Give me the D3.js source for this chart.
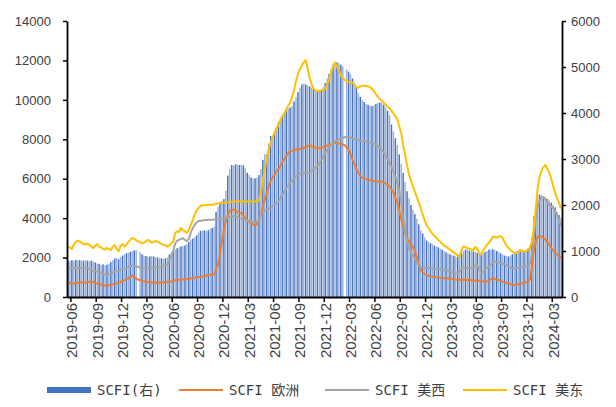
<!DOCTYPE html>
<html>
<head>
<meta charset="utf-8">
<script src="https://cdn.jsdelivr.net/npm/d3@7"></script>
<style>
  body { margin: 0; background: #fff; }
  svg { display: block; }
  .axis text { font-family: "Liberation Sans", Arial, sans-serif; fill: #404040; }
  .legend text { font-family: "DejaVu Sans Mono", "Noto Sans CJK SC", monospace; font-size: 14px; fill: #404040; }
</style>
</head>
<body>
<svg id="chart" width="616" height="407"></svg>
<script>
// weekly SCFI, first week of the series
const startWeek = "2019-05-24";

const tickLabels = ["2019-06", "2019-09", "2019-12", "2020-03", "2020-06", "2020-09", "2020-12",
  "2021-03", "2021-06", "2021-09", "2021-12", "2022-03", "2022-06", "2022-09", "2022-12",
  "2023-03", "2023-06", "2023-09", "2023-12", "2024-03"];

const leftTicks = [0, 2000, 4000, 6000, 8000, 10000, 12000, 14000];
const rightTicks = [0, 1000, 2000, 3000, 4000, 5000, 6000];

const seriesNames = ["SCFI(右)", "SCFI 欧洲", "SCFI 美西", "SCFI 美东"];

// SCFI composite (right axis), null = no publication
const scfi = [
  780, 790, 800, 790, 810, 800, 800, 790, 790, 800, 790, 780, 790, 770,
  750, 730, 720, 700, 710, 690, 700,
  720, 760, 800, 840, 850, 820, 870,
  900, 930, 950, 960, 980, 1000, 1010, 1020,
  null,
  980, 930, 900, 890, 880, 880, 890, 880, 870, 860, 850, 840, 830, 840, 860,
  920, 960, 1000, 1030, 1060, 1080, 1100, 1110, 1120, 1150, 1200, 1250, 1270, 1300,
  1340, 1400, 1440, 1440, 1450, 1440, 1450, 1480, 1500, 1530,
  1850, 1960, 2050, 2090, 2130, 2310, 2640, 2780,
  2870, 2860, 2885, 2875, 2870, 2875, 2860,
  2800, 2700, 2650, 2600, 2570, 2580, 2600, 2650,
  2780, 2980, 3100, 3100, 3340,
  3500, 3500, 3600, 3700, 3800, 3900, 3950,
  4000, 4050, 4100, 4120,
  4150, 4250, 4350, 4450, 4550, 4620, 4640, 4620, 4600, 4580, 4550, 4530, 4500, 4480, 4470,
  4500, 4560, 4650, 4750, 4850, 4950, 5050, 5110, 5100, 5080, 5050, 5010,
  null,
  4950, 4900, 4850, 4750, 4660, 4550, 4430, 4350, 4280, 4240, 4200, 4180, 4160, 4150,
  4170, 4200, 4220, 4230, 4220, 4180, 4120, 4050, 3950, 3750, 3600, 3450, 3300,
  3100, 2900, 2700, 2500, 2300, 2150, 2000, 1900, 1800, 1700, 1580, 1450,
  1380, 1300, 1230, 1200, 1170, 1150, 1120, 1100, 1080, 1050, 1030, 1000, 970, 950, 930, 910, 900, 880, 870,
  900, 950, 1000, 1030, 1030, 1010, 1000, 990, 980, 960, 950, 940, 950,
  980, 1000, 1030, 1030, 1040, 1020, 1000, 980,
  950, 920, 900, 890, 880, 900, 930, 960, 990, 1000, 990, 1000,
  1000, 1030, 1050, 1100,
  1250, 1760, 2000, 2200,
  2230, 2210, 2180, 2170, 2130,
  2100, 2050, 2000, 1950,
  1850, 1780, 1730
];

// SCFI Europe (left axis)
const europe = [
  750, 720, 700, 690, 700, 730, 750, 740, 730, 740, 760, 770, 780, 760,
  720, 680, 650, 620, 600, 580, 580, 600, 620, 640, 660, 690, 720, 760,
  800, 850, 900, 950, 1020, 1090, 1000, 930, 880, 860, 830, 800, 770, 760,
  750, 740, 730, 730, 720, 720, 730, 740, 760, 770, 780, 790, 810, 850,
  870, 880, 880, 890, 900, 900, 910, 930, 960, 980, 1000, 1010, 1020, 1035,
  1060, 1080, 1110, 1120, 1140, 1150, 1400, 1650, 2200, 2800, 3400, 3850, 4170, 4380,
  4430, 4420, 4400, 4300, 4280, 4250, 4150, 4000, 3900, 3800, 3750, 3680, 3650, 3700,
  3900, 4200, 4600, 4950, 5300, 5600, 5900, 6050, 6200, 6380, 6500, 6650, 6850, 7000,
  7150, 7300, 7400, 7420, 7450, 7480, 7500, 7500, 7530, 7560, 7600, 7650, 7700, 7650,
  7600, 7570, 7560, 7570, 7580, 7600, 7650, 7680, 7700, 7740, 7780, 7820, 7800, 7780,
  7760, 7740, 7700, 7600, 7450, 7250, 6970, 6750, 6500, 6300, 6150, 6040, 6000, 5980,
  5960, 5930, 5900, 5880, 5870, 5860, 5850, 5840, 5800, 5750, 5700, 5600, 5450, 5300,
  5050, 4800, 4400, 3950, 3600, 3250, 3000, 2800, 2650, 2550, 2350, 2000, 1650, 1400,
  1250, 1180, 1120, 1080, 1050, 1035, 1020, 1000, 990, 970, 960, 950, 950, 940,
  930, 920, 900, 880, 870, 870, 880, 880, 870, 860, 860, 850, 850, 840,
  830, 820, 800, 790, 780, 780, 820, 900, 950, 920, 880, 860, 820, 780,
  750, 720, 690, 660, 630, 610, 620, 650, 680, 700, 730, 750, 800, 900,
  1500, 2300, 2800, 3050, 3100, 3080, 3000, 2900, 2800, 2650, 2500, 2350, 2250, 2150, 2050, 1980
];

// SCFI US West Coast (left axis)
const usWest = [
  1490, 1450, 1420, 1440, 1470, 1490, 1480, 1460, 1450, 1440, 1460, 1420, 1380, 1320,
  1310, 1300, 1280, 1230, 1180, 1140, 1120, 1150, 1200, 1250, 1280, 1300, 1320, 1360,
  1400, 1440, 1470, 1520, 1570, 1600, 1580, 1550, 1530, 1500, 1480, 1460, 1450, 1460,
  1470, 1490, 1480, 1500, 1520, 1540, 1550, 1580, 1600, 1640, 1850, 2100, 2350, 2700,
  2850, 2900, 2950, 2980, 2900, 2830, 2950, 3250, 3500, 3650, 3780, 3850, 3870, 3880,
  3900, 3900, 3920, 3920, 3920, 3930, 3940, 3950, 3960, 3980, 3990, 4000, 4000, 4050,
  4080, 4090, 4080, 4050, 4000, 3980, 3950, 3920, 3880, 3850, 3820, 3780, 3750, 3800,
  3950, 4150, 4340, 4400, 4450, 4480, 4530, 4600, 4680, 4760, 4850, 5000, 5200, 5350,
  5500, 5650, 5780, 5900, 6000, 6130, 6200, 6260, 6300, 6300, 6300, 6300, 6320, 6400,
  6500, 6550, 6650, 6800, 6950, 7100, 7300, 7450, 7570, 7700, 7800, 7900, 7950, 8000,
  8050, 8080, 8100, 8110, 8110, 8100, 8050, 8000, 7980, 7950, 7920, 7910, 7900, 7900,
  7880, 7850, 7800, 7760, 7720, 7650, 7550, 7450, 7350, 7150, 7000, 6800, 6600, 6350,
  6100, 5800, 5400, 4800, 4000, 3400, 2800, 2480, 2250, 2100, 1950, 1750, 1600, 1520,
  1490, 1480, 1470, 1460, 1460, 1450, 1450, 1440, 1430, 1420, 1400, 1380, 1350, 1320,
  1300, 1280, 1250, 1200, 1160, 1300, 1460, 1480, 1470, 1460, 1450, 1460, 1500, 1600,
  1630, 1400, 1200, 1250, 1400, 1480, 1550, 1650, 1750, 1800, 1780, 1750, 1720, 1700,
  1650, 1600, 1550, 1500, 1450, 1440, 1450, 1480, 1500, 1520, 1550, 1580, 1600, 1700,
  2100, 3000, 4000, 4600, 4900, 5050, 5060, 4950, 4800, 4680, 4600, 4500, 4350, 4170, 3900, 3600
];

// SCFI US East Coast (left axis)
const usEast = [
  2560, 2500, 2440, 2650, 2800, 2850, 2830, 2760, 2700, 2660, 2700, 2650, 2550, 2480,
  2600, 2680, 2560, 2500, 2440, 2400, 2500, 2420, 2390, 2560, 2620, 2450, 2310, 2600,
  2680, 2560, 2650, 2800, 2900, 2990, 2950, 2880, 2820, 2780, 2730, 2760, 2820, 2900,
  2850, 2750, 2800, 2850, 2800, 2750, 2680, 2650, 2620, 2560, 2600, 2730, 2800, 3240,
  3330, 3300, 3500, 3400, 3330, 3250, 3400, 3650, 3900, 4170, 4400, 4510, 4620, 4650,
  4660, 4670, 4680, 4680, 4680, 4700, 4720, 4750, 4770, 4770, 4780, 4790, 4800, 4820,
  4830, 4840, 4850, 4850, 4850, 4850, 4850, 4850, 4850, 4850, 4850, 4850, 4850, 4850,
  4880, 5300, 5900, 6500, 7000, 7500, 7800, 8100, 8350, 8550, 8750, 8950, 9150, 9300,
  9500, 9700, 9850, 10150, 10500, 10960, 11300, 11560, 11750, 11900, 12020, 11600, 11100, 10800,
  10560, 10480, 10450, 10450, 10480, 10500, 10560, 10800, 11000, 11400, 11700, 11900, 11700, 11500,
  11250, 11100, 11000, 10960, 10900, 10880, 10870, 10750, 10640, 10620, 10680, 10710, 10720, 10700,
  10680, 10650, 10550, 10450, 10300, 10150, 10050, 9950, 9860, 9750, 9650, 9580, 9450, 9300,
  9180, 9000, 8650, 8300, 7700, 7200, 6700, 6200, 5900, 5600, 5350, 5050, 4800, 4500,
  4200, 3900, 3650, 3500, 3350, 3200, 3100, 3000, 2900, 2800, 2700, 2600, 2550, 2480,
  2400, 2330, 2250, 2180, 2100, 2050, 2400, 2560, 2530, 2480, 2450, 2400, 2350, 2550,
  2450, 2250, 2150, 2350, 2500, 2650, 2750, 2900, 3050, 3050, 3000, 3080, 3080, 3000,
  2800, 2600, 2500, 2390, 2300, 2250, 2230, 2300, 2380, 2350, 2300, 2300, 2400, 2480,
  2800, 3500, 4500, 5500, 6100, 6400, 6600, 6700, 6500, 6300, 6000, 5600, 5300, 5000, 4750, 4500
];

// bars come out striped in the original: dark blue / washed-out blue
const colors = { bar: "#4472C4", barLight: "#9db1d6", europe: "#ED7D31", usWest: "#A5A5A5", usEast: "#FFC000" };

const margin = { top: 21, right: 54, bottom: 110, left: 67 };
const width = 616, height = 407;
const svg = d3.select("#chart");

// week categories
const parse = d3.timeParse("%Y-%m-%d");
const fmt = d3.timeFormat("%Y-%m-%d");
const weeks = scfi.map((d, i) => fmt(d3.timeWeek.offset(parse(startWeek), i)));
const tickCats = tickLabels.map((t, k) => weeks[2 + k * 13]);

const x = d3.scaleBand()
  .domain(weeks)
  .range([margin.left, width - margin.right])
  .paddingInner(0.25)
  .paddingOuter(0.12);
const yL = d3.scaleLinear().domain([0, 14000]).range([height - margin.bottom, margin.top]);
const yR = d3.scaleLinear().domain([0, 6000]).range([height - margin.bottom, margin.top]);
const cx = i => x(weeks[i]) + x.bandwidth() / 2;

// bars
svg.append("g")
  .selectAll("rect")
  .data(scfi.map((v, i) => ({ v, i })).filter(d => d.v != null))
  .join("rect")
  .attr("x", d => x(weeks[d.i]))
  .attr("y", d => yR(d.v))
  .attr("width", x.bandwidth())
  .attr("height", d => yR(0) - yR(d.v))
  .attr("fill", d => (d.i % 2 ? colors.barLight : colors.bar));

// lines
const line = d3.line().x((d, i) => cx(i)).y(d => yL(d));
[[europe, colors.europe], [usWest, colors.usWest], [usEast, colors.usEast]].forEach(([s, c]) => {
  svg.append("path")
    .datum(s)
    .attr("fill", "none")
    .attr("stroke", c)
    .attr("stroke-width", 2)
    .attr("stroke-linejoin", "round")
    .attr("d", line);
});

// axes
const step = x.step();
const xAxis = svg.append("g")
  .attr("class", "axis")
  .attr("transform", `translate(0,${height - margin.bottom})`)
  .call(d3.axisBottom(x).tickValues(tickCats).tickSize(5).tickSizeOuter(0)
    .tickFormat((d, k) => tickLabels[k]));
xAxis.selectAll(".tick line").attr("x1", -step / 2).attr("x2", -step / 2);
xAxis.selectAll(".tick text")
  .attr("font-size", 15)
  .attr("transform", "rotate(-90)")
  .attr("text-anchor", "end")
  .attr("x", -6)
  .attr("y", 0)
  .attr("dy", "0.36em");

const lAxis = svg.append("g")
  .attr("class", "axis")
  .attr("transform", `translate(${margin.left},0)`)
  .call(d3.axisLeft(yL).tickValues(leftTicks).tickSize(4).tickSizeOuter(0).tickPadding(12).tickFormat(d3.format("d")));
lAxis.selectAll("text").attr("font-size", 13);

const rAxis = svg.append("g")
  .attr("class", "axis")
  .attr("transform", `translate(${width - margin.right},0)`)
  .call(d3.axisRight(yR).tickValues(rightTicks).tickSize(4).tickSizeOuter(0).tickPadding(5).tickFormat(d3.format("d")));
rAxis.selectAll("text").attr("font-size", 13);

svg.selectAll(".axis .domain").attr("stroke", "#000").attr("stroke-width", 1.8);
svg.selectAll(".axis .tick line").attr("stroke", "#000").attr("stroke-width", 1.5);

// legend
const legend = svg.append("g").attr("class", "legend");
const legendItems = [
  { name: seriesNames[0], color: colors.bar, x: 47, type: "rect" },
  { name: seriesNames[1], color: colors.europe, x: 179, type: "line" },
  { name: seriesNames[2], color: colors.usWest, x: 325, type: "line" },
  { name: seriesNames[3], color: colors.usEast, x: 463, type: "line" }
];
const ly = 390;
legendItems.forEach(it => {
  if (it.type === "rect") {
    legend.append("rect").attr("x", it.x).attr("y", ly - 3).attr("width", 44).attr("height", 6).attr("fill", it.color);
  } else {
    legend.append("line").attr("x1", it.x).attr("x2", it.x + 44).attr("y1", ly).attr("y2", ly)
      .attr("stroke", it.color).attr("stroke-width", 2);
  }
  legend.append("text").attr("x", it.x + 50).attr("y", ly).attr("dy", "0.36em").text(it.name);
});
</script>
</body>
</html>
